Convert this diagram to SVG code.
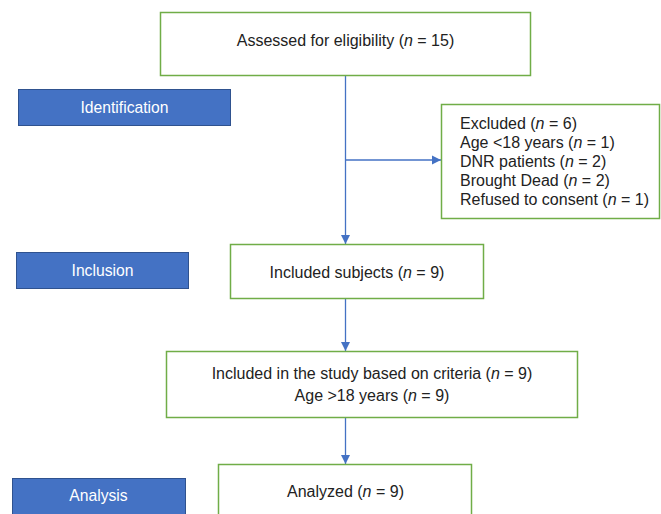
<svg xmlns="http://www.w3.org/2000/svg" width="661" height="514" viewBox="0 0 661 514">
<defs>
<style>
.box{fill:#fff;stroke:#70ad47;stroke-width:1.5}
.lab{fill:#4472c4;stroke:#2f528f;stroke-width:1}
.t{font-family:"Liberation Sans",Arial,sans-serif;font-size:16px;fill:#222}
.w{font-family:"Liberation Sans",Arial,sans-serif;font-size:15.7px;fill:#fff}
.c{stroke:#4472c4;stroke-width:1.3;fill:none}
</style>
<marker id="ah" markerWidth="10" markerHeight="10" refX="9" refY="5" orient="auto" markerUnits="userSpaceOnUse">
<path d="M0,0.5 L9,5 L0,9.5 Z" fill="#4472c4"/>
</marker>
</defs>
<rect width="661" height="514" fill="#fff"/>
<g id="connectors">
<line class="c" x1="345.5" y1="76" x2="345.5" y2="244" marker-end="url(#ah)"/>
<line class="c" x1="345.5" y1="160" x2="441" y2="160" marker-end="url(#ah)"/>
<line class="c" x1="345.5" y1="299" x2="345.5" y2="351" marker-end="url(#ah)"/>
<line class="c" x1="345.5" y1="418" x2="345.5" y2="464" marker-end="url(#ah)"/>
</g>
<g id="identification">
<rect class="lab" x="18.5" y="89.5" width="212" height="36"/>
<text class="w" x="124.5" y="113" text-anchor="middle">Identification</text>
</g>
<g id="inclusion">
<rect class="lab" x="16.5" y="252.5" width="172" height="36"/>
<text class="w" x="102.5" y="276" text-anchor="middle">Inclusion</text>
</g>
<g id="analysis">
<rect class="lab" x="12.5" y="478.5" width="173" height="40"/>
<text class="w" x="98.5" y="501" text-anchor="middle">Analysis</text>
</g>
<g id="assessed">
<rect class="box" x="160.5" y="12.5" width="370" height="63"/>
<text class="t" x="345.5" y="45.5" text-anchor="middle">Assessed for eligibility (<tspan font-style="italic">n</tspan> = 15)</text>
</g>
<g id="excluded">
<rect class="box" x="441.5" y="104.5" width="218" height="114"/>
<text class="t" x="460" y="129">Excluded (<tspan font-style="italic">n</tspan> = 6)</text>
<text class="t" x="460" y="148">Age &lt;18 years (<tspan font-style="italic">n</tspan> = 1)</text>
<text class="t" x="460" y="166.5">DNR patients (<tspan font-style="italic">n</tspan> = 2)</text>
<text class="t" x="460" y="185.5">Brought Dead (<tspan font-style="italic">n</tspan> = 2)</text>
<text class="t" x="460" y="205">Refused to consent (<tspan font-style="italic">n</tspan> = 1)</text>
</g>
<g id="included">
<rect class="box" x="230.5" y="244.5" width="253" height="54"/>
<text class="t" x="357" y="277.5" text-anchor="middle">Included subjects (<tspan font-style="italic">n</tspan> = 9)</text>
</g>
<g id="criteria">
<rect class="box" x="166.5" y="351.5" width="411" height="66"/>
<text class="t" x="372" y="378.5" text-anchor="middle">Included in the study based on criteria (<tspan font-style="italic">n</tspan> = 9)</text>
<text class="t" x="372" y="400.5" text-anchor="middle">Age &gt;18 years (<tspan font-style="italic">n</tspan> = 9)</text>
</g>
<g id="analyzed">
<rect class="box" x="218.5" y="464.5" width="253" height="60"/>
<text class="t" x="345.5" y="496.5" text-anchor="middle">Analyzed (<tspan font-style="italic">n</tspan> = 9)</text>
</g>
</svg>
